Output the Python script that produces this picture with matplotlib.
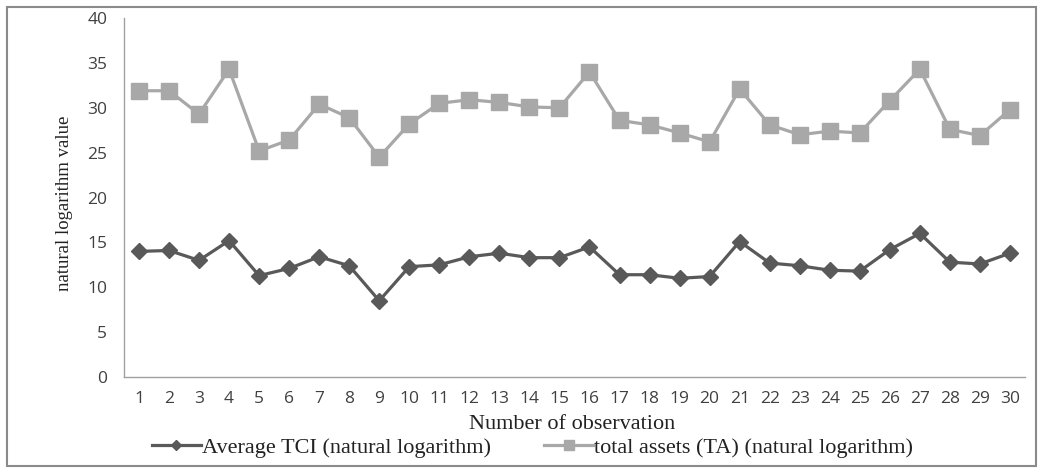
import matplotlib
matplotlib.use("Agg")
import matplotlib.pyplot as plt
from matplotlib.patches import Rectangle

# observation numbers
obs = list(range(1, 31))

# Average TCI (natural logarithm)
tci = [14.0, 14.1, 13.0, 15.2, 11.3, 12.1, 13.4, 12.4, 8.5, 12.3,
       12.5, 13.4, 13.8, 13.3, 13.3, 14.5, 11.4, 11.4, 11.0, 11.2,
       15.1, 12.7, 12.4, 11.9, 11.8, 14.2, 16.0, 12.8, 12.6, 13.8]

# total assets (TA) (natural logarithm)
ta = [31.9, 31.9, 29.3, 34.3, 25.2, 26.4, 30.4, 28.9, 24.5, 28.2,
      30.5, 30.9, 30.6, 30.1, 30.0, 34.0, 28.6, 28.1, 27.2, 26.2,
      32.1, 28.1, 27.0, 27.4, 27.2, 30.8, 34.3, 27.6, 26.9, 29.8]

yticks = [0, 5, 10, 15, 20, 25, 30, 35, 40]

fig = plt.figure(figsize=(10.39, 4.68), dpi=100)
ax = fig.add_axes([0.1193, 0.1944, 0.8672, 0.767])

ax.plot(obs, tci, color="#595959", linewidth=2.3, marker="D", markersize=8.5,
        label="Average TCI (natural logarithm)")
ax.plot(obs, ta, color="#a8a8a8", linewidth=2.3, marker="s", markersize=11,
        label="total assets (TA) (natural logarithm)")

ax.set_xlim(0.5, 30.5)
ax.set_ylim(0, 40)
ax.set_xticks(obs)
ax.set_yticks(yticks)
ax.tick_params(length=0, labelsize=12.5, labelcolor="#404040", pad=12)
ax.tick_params(axis="x", pad=10)
for lab in ax.get_xticklabels() + ax.get_yticklabels():
    lab.set_family("Open Sans")

for s in ["top", "right"]:
    ax.spines[s].set_visible(False)
for s in ["left", "bottom"]:
    ax.spines[s].set_color("#a0a0a0")
    ax.spines[s].set_linewidth(1)

fig.text(0.551, 0.092, "Number of observation", fontsize=16,
         family="Liberation Serif", color="#222222", ha="center", va="center")
fig.text(0.0625, 0.565, "natural logarithm value", fontsize=13.5, rotation=90,
         family="Liberation Serif", color="#222222", ha="center", va="center")

fig.legend(loc="center", bbox_to_anchor=(0.5125, 0.043), ncol=2, frameon=False,
           prop={"family": "Liberation Serif", "size": 16}, handlelength=2.2,
           handletextpad=0.05, columnspacing=2.4, markerscale=0.65,
           labelcolor="#222222")

# outer border
fig.patches.append(Rectangle((0.007, 0.004), 0.99, 0.98, transform=fig.transFigure,
                             fill=False, edgecolor="#8a8a8a", linewidth=1.5))

fig.savefig("out.png", dpi=100)
